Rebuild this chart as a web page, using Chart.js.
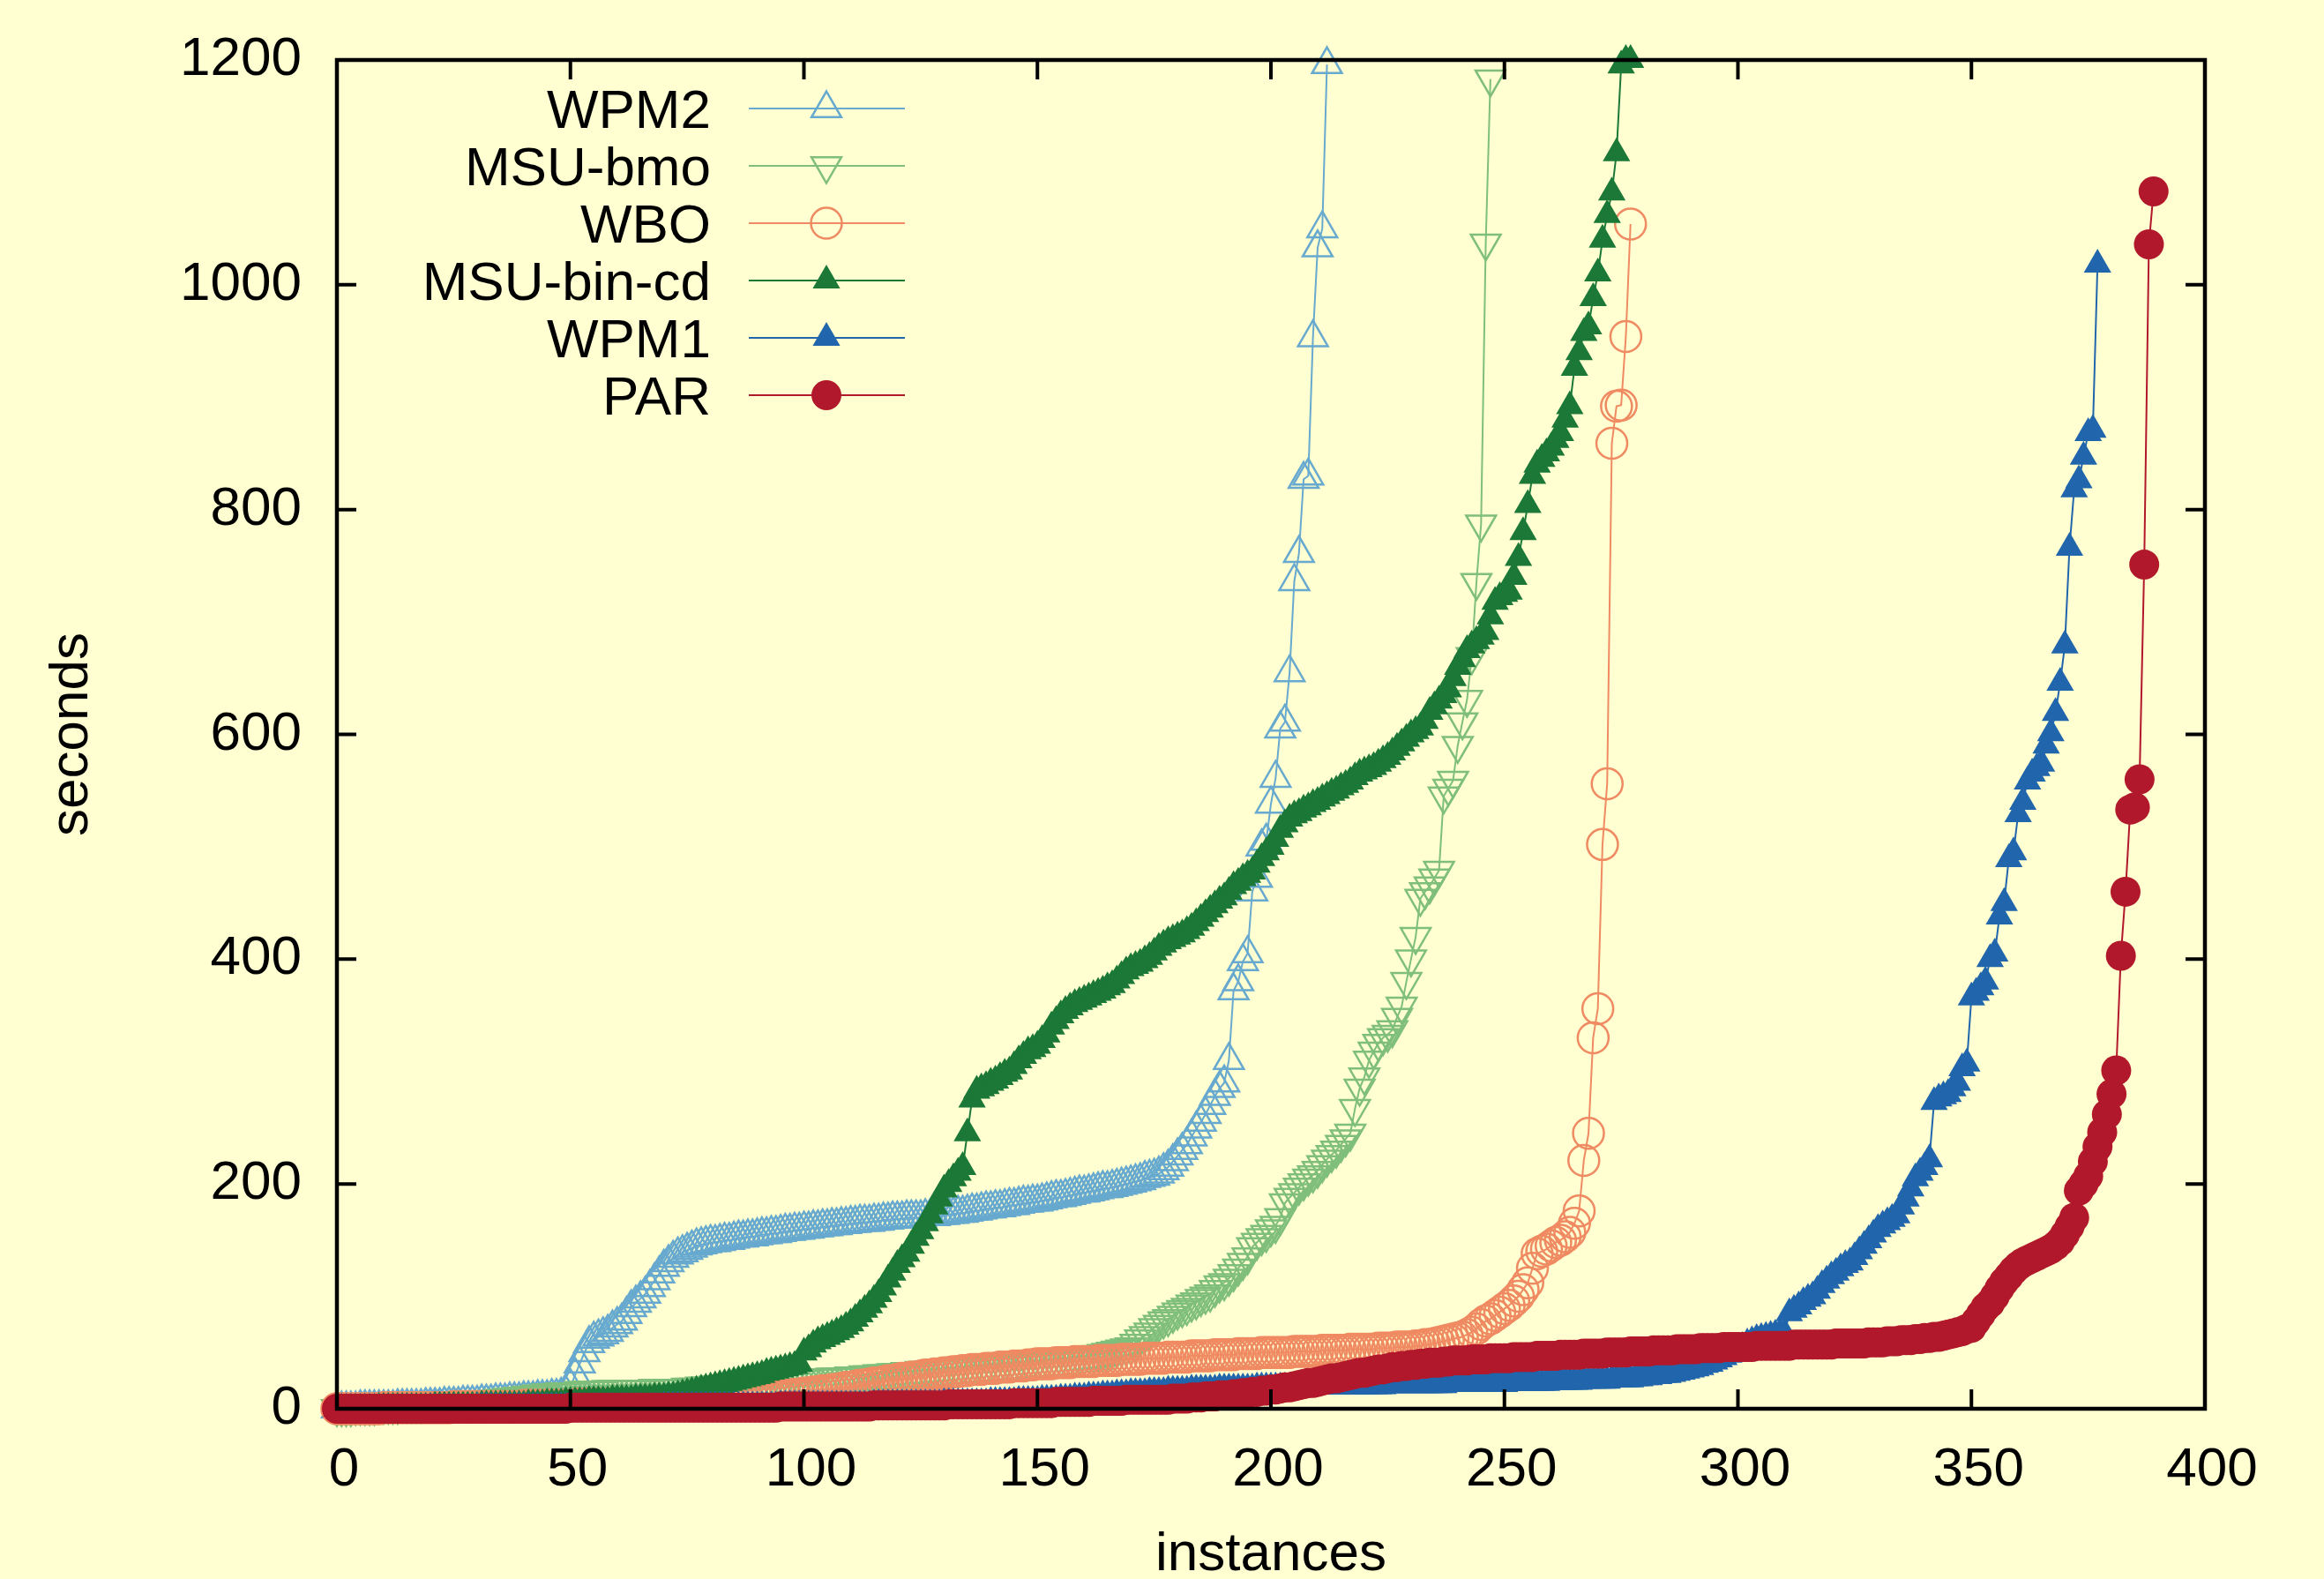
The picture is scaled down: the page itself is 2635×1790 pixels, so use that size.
<!DOCTYPE html>
<html>
<head>
<meta charset="utf-8">
<script src="https://cdn.jsdelivr.net/npm/chart.js@4.4.1/dist/chart.umd.min.js"></script>
<style>
  html, body { margin: 0; padding: 0; background: #ffffd1; }
  #wrap { width: 2635px; height: 1790px; }
</style>
</head>
<body>
<div id="wrap"><canvas id="cactusChart" width="2635" height="1790"></canvas></div>
<script>
// solved instances sorted by run time (cactus plot), one value per instance
const seriesNames = ['WPM2', 'MSU-bmo', 'WBO', 'MSU-bin-cd', 'WPM1', 'PAR'];
const xTicks = [0, 50, 100, 150, 200, 250, 300, 350, 400];
const yTicks = [0, 200, 400, 600, 800, 1000, 1200];

const wpm2 = [
  0,0,0,0,0,1,1,1,1,1,1,1,1,2,2,2,2,2,2,3,
  3,3,3,4,4,4,4,5,5,5,5,6,6,6,7,7,7,8,8,8,
  9,9,9,10,10,10,11,11,12,14,20,30,40,50,58,62,64,66,68,72,
  75,78,84,90,94,98,102,108,114,120,126,130,134,137,139,141,143,145,146,147,
  148,148,149,150,150,151,152,152,153,153,154,155,155,156,156,157,158,158,159,159,
  160,160,161,161,162,162,163,163,164,164,165,165,166,166,166,167,167,168,168,169,
  169,169,170,170,170,170,171,171,171,172,172,173,173,174,174,175,176,176,177,178,
  178,179,179,180,181,181,182,183,183,184,184,185,186,187,188,188,189,190,191,192,
  192,193,194,195,196,196,197,198,199,200,201,202,203,205,206,207,209,212,215,220,
  225,230,235,242,249,255,262,270,278,285,290,310,372,380,398,405,460,472,500,505,
  538,561,605,611,655,736,761,827,830,953,1033,1050,1196
];

const msuBmo = [
  0,0,0,0,1,1,1,1,1,2,2,2,2,2,3,3,3,3,3,4,
  4,4,4,5,5,5,5,6,6,6,7,7,7,8,8,9,9,10,10,11,
  11,12,12,13,13,14,14,14,15,15,15,15,16,16,16,16,16,16,17,17,
  17,17,17,17,17,17,17,17,18,18,18,18,18,18,18,19,19,19,20,20,
  20,21,21,21,22,22,22,23,23,23,24,24,24,24,25,25,25,25,26,26,
  26,26,27,27,27,27,28,28,28,28,29,29,29,30,30,30,31,31,31,32,
  32,32,33,33,33,34,34,34,35,35,35,36,36,36,37,37,37,38,38,38,
  39,39,39,40,40,40,41,41,41,42,42,42,43,43,43,44,44,45,45,46,
  46,47,47,48,49,50,51,52,53,54,55,58,62,65,68,72,75,78,80,83,
  86,88,90,93,95,98,100,102,106,110,112,116,120,125,130,135,144,148,152,155,
  160,163,170,183,188,192,197,201,205,208,212,217,222,226,230,235,240,245,267,285,
  295,310,318,325,330,333,337,348,358,380,400,420,454,460,465,472,479,545,552,559,
  590,611,631,669,735,787,1037,1183
];

const wbo = [
  0,0,0,0,0,0,0,0,0,0,1,1,1,1,1,1,1,1,1,1,
  1,1,1,1,1,2,2,2,2,2,2,2,2,2,2,2,2,2,2,2,
  3,3,3,3,3,3,3,3,3,3,3,4,4,4,4,4,4,4,4,4,
  4,4,4,4,5,5,5,5,5,5,5,5,5,6,6,6,6,6,6,6,
  6,6,6,7,7,7,8,8,8,9,9,9,10,10,11,11,12,12,13,13,
  14,14,15,15,16,16,17,17,18,19,19,20,21,21,22,23,23,24,25,25,
  26,27,27,28,28,29,30,30,31,31,32,32,33,33,34,34,35,35,35,36,
  36,36,37,37,37,38,38,38,39,39,40,40,40,40,41,41,41,41,42,42,
  42,42,42,43,43,43,43,43,44,44,44,44,44,45,45,45,45,45,46,46,
  46,46,46,47,47,47,47,47,48,48,48,48,48,49,49,49,49,49,50,50,
  50,50,50,50,50,51,51,51,51,51,51,52,52,52,52,52,52,53,53,53,
  53,53,53,54,54,54,54,55,55,55,55,56,56,57,57,58,59,60,61,62,
  63,64,66,68,71,75,78,80,83,86,89,92,96,100,106,112,125,138,140,142,
  145,148,150,153,157,165,176,221,245,330,356,502,556,859,892,893,954,1054
];

const msuBinCd = [
  0,0,0,0,0,0,0,0,0,1,1,1,1,1,1,1,1,1,1,1,
  1,2,2,2,2,2,2,2,2,2,2,3,3,3,3,3,3,3,3,3,
  3,4,4,4,4,5,5,5,5,6,6,6,6,6,7,7,7,7,7,8,
  8,8,8,8,9,9,9,9,10,10,10,11,11,12,13,14,15,16,17,18,
  19,20,21,22,23,24,25,26,27,28,29,30,32,33,34,35,36,37,38,40,
  50,53,57,60,62,64,66,68,70,73,76,80,84,88,92,97,102,108,115,121,
  128,133,138,145,152,158,165,172,180,187,195,200,205,210,215,245,275,283,285,287,
  290,292,295,298,300,305,310,314,318,320,323,328,333,340,345,350,354,357,360,362,
  364,366,368,370,372,375,377,381,385,389,392,394,396,399,402,406,410,413,416,418,
  420,422,425,428,432,436,440,444,448,452,455,460,465,468,472,475,478,484,490,495,
  500,507,515,520,525,528,530,533,535,538,540,543,545,548,550,553,555,558,562,565,
  567,569,571,574,577,580,584,588,592,596,600,603,606,612,620,625,630,635,640,650,
  660,667,675,679,683,687,691,705,718,722,725,727,740,757,780,804,830,840,845,850,
  855,862,868,880,892,926,940,957,963,988,1010,1040,1062,1082,1117,1195,1200,1200
];

const wpm1 = [
  0,0,0,0,0,0,0,0,0,0,0,0,0,0,0,0,0,0,0,0,
  0,0,0,0,0,0,0,0,0,0,1,1,1,1,1,1,1,1,1,1,
  1,1,1,1,1,1,1,1,1,1,1,1,1,1,1,1,1,1,1,1,
  1,1,1,1,1,1,1,1,1,1,2,2,2,2,2,2,2,2,2,2,
  2,2,2,2,2,2,2,2,2,2,2,2,2,2,2,3,3,3,3,3,
  3,3,3,3,3,3,3,3,3,3,3,3,3,3,3,4,4,4,4,4,
  4,4,4,4,4,4,4,4,4,4,5,5,5,5,5,5,5,5,5,5,
  6,6,6,6,6,6,7,7,7,7,7,8,8,8,8,9,9,9,10,10,
  10,11,11,11,12,12,12,13,13,13,14,14,14,14,15,15,15,15,16,16,
  16,16,16,17,17,17,17,17,17,18,18,18,18,18,18,18,18,19,19,19,
  19,19,19,19,19,19,19,19,20,20,20,20,20,20,20,20,20,20,20,20,
  20,20,20,20,20,21,21,21,21,21,21,21,21,21,21,21,21,21,22,22,
  22,22,22,22,22,22,22,22,22,22,22,23,23,23,23,23,23,23,23,23,
  24,24,24,24,24,24,24,25,25,25,25,25,25,26,26,26,26,26,27,27,
  28,28,29,29,30,30,31,32,33,34,35,36,37,39,40,42,44,46,48,50,
  52,55,58,60,62,63,64,65,66,67,67,85,88,91,95,98,100,105,110,114,
  118,121,125,128,130,135,140,145,150,155,160,163,166,169,172,180,187,196,205,210,
  215,222,273,276,278,280,285,290,303,307,366,370,375,380,400,405,438,450,489,495,
  529,540,558,565,570,574,590,601,619,646,679,766,818,826,847,868,871,1018
];

const par = [
  0,0,0,0,0,0,0,0,0,0,0,0,0,0,0,0,0,0,0,0,
  0,0,0,0,0,0,0,0,0,0,0,0,0,0,0,0,0,0,0,0,
  0,0,0,0,0,0,0,0,0,0,1,1,1,1,1,1,1,1,1,1,
  1,1,1,1,1,1,1,1,1,1,1,1,1,1,1,1,1,1,1,1,
  1,1,1,1,1,1,1,1,1,1,1,1,1,1,1,2,2,2,2,2,
  2,2,2,2,2,2,2,2,2,2,2,2,2,2,2,3,3,3,3,3,
  3,3,3,3,3,3,3,3,3,3,3,4,4,4,4,4,4,4,4,4,
  4,4,4,4,4,5,5,5,5,5,5,5,5,5,6,6,6,6,6,6,
  6,6,7,7,7,7,7,7,7,8,8,8,8,8,8,8,8,8,8,9,
  9,9,9,10,10,10,11,11,11,12,12,12,13,13,14,14,15,15,16,16,
  17,17,18,19,19,20,21,22,23,23,24,25,26,27,27,28,29,30,31,32,
  32,33,34,35,35,36,37,37,38,38,39,39,40,40,41,41,41,42,42,43,
  43,43,43,44,44,44,44,45,45,45,45,45,46,46,46,46,46,47,47,47,
  47,47,48,48,48,48,48,49,49,49,49,49,50,50,50,50,50,51,51,51,
  51,51,52,52,52,52,52,53,53,53,53,53,54,54,54,54,54,55,55,55,
  55,55,55,55,56,56,56,56,56,56,56,56,57,57,57,57,57,57,57,57,
  57,58,58,58,58,58,58,58,59,59,59,59,60,60,60,61,61,61,62,62,
  63,63,64,64,65,66,67,68,69,71,72,78,84,90,94,100,107,113,118,123,
  127,130,132,134,136,138,140,142,145,149,155,162,170,194,200,207,220,233,246,262,
  280,301,403,460,533,535,560,751,1036,1083
];

const seriesValues = [wpm2, msuBmo, wbo, msuBinCd, wpm1, par];

// look of each series (gnuplot style linespoints)
const seriesStyles = [
  { color: '#67a9cf', shape: 'triangle', rotation: 0,   radius: 19.5, filled: false },
  { color: '#7fbf7b', shape: 'triangle', rotation: 180, radius: 19.5, filled: false },
  { color: '#ef8a62', shape: 'circle',   rotation: 0,   radius: 17.5, filled: false },
  { color: '#1b7837', shape: 'triangle', rotation: 0,   radius: 18,   filled: true },
  { color: '#2166ac', shape: 'triangle', rotation: 0,   radius: 18,   filled: true },
  { color: '#b2182b', shape: 'circle',   rotation: 0,   radius: 17,   filled: true }
];

const BG = '#ffffd1';
const FONT = "'Liberation Sans', Arial, Helvetica, sans-serif";
Chart.defaults.font.family = FONT;
Chart.defaults.color = '#000';

function drawMarker(ctx, st, x, y) {
  ctx.beginPath();
  if (st.shape === 'circle') {
    ctx.arc(x, y, st.radius, 0, Math.PI * 2);
  } else {
    let rad = st.rotation * Math.PI / 180;
    const r = st.radius;
    ctx.moveTo(x + Math.sin(rad) * r, y - Math.cos(rad) * r);
    rad += 2 * Math.PI / 3;
    ctx.lineTo(x + Math.sin(rad) * r, y - Math.cos(rad) * r);
    rad += 2 * Math.PI / 3;
    ctx.lineTo(x + Math.sin(rad) * r, y - Math.cos(rad) * r);
  }
  ctx.closePath();
  if (st.filled) {
    ctx.fillStyle = st.color;
    ctx.fill();
  } else {
    ctx.strokeStyle = st.color;
    ctx.lineWidth = 2.5;
    ctx.stroke();
  }
}

const bgPlugin = {
  id: 'bg',
  beforeDraw(chart) {
    const ctx = chart.ctx;
    ctx.save();
    ctx.fillStyle = BG;
    ctx.fillRect(0, 0, chart.width, chart.height);
    ctx.restore();
  }
};

// border on top of the data, inward mirrored ticks, and the key
const framePlugin = {
  id: 'frame',
  afterDatasetsDraw(chart) {
    const ctx = chart.ctx;
    const a = chart.chartArea;
    const xs = chart.scales.x, ys = chart.scales.y;
    const tl = 22;
    ctx.save();
    ctx.strokeStyle = '#000';
    ctx.lineWidth = 4.5;
    ctx.strokeRect(a.left, a.top, a.right - a.left, a.bottom - a.top);
    ctx.lineWidth = 4;
    ctx.beginPath();
    xTicks.slice(1, -1).forEach(v => {
      const px = xs.getPixelForValue(v);
      ctx.moveTo(px, a.bottom); ctx.lineTo(px, a.bottom - tl);
      ctx.moveTo(px, a.top); ctx.lineTo(px, a.top + tl);
    });
    yTicks.slice(1, -1).forEach(v => {
      const py = ys.getPixelForValue(v);
      ctx.moveTo(a.left, py); ctx.lineTo(a.left + tl, py);
      ctx.moveTo(a.right, py); ctx.lineTo(a.right - tl, py);
    });
    ctx.stroke();

    // key, top left
    ctx.font = '62px ' + FONT;
    ctx.textAlign = 'right';
    ctx.textBaseline = 'alphabetic';
    seriesNames.forEach((name, i) => {
      const y = 123 + i * 65;
      const st = seriesStyles[i];
      ctx.fillStyle = '#000';
      ctx.fillText(name, 806, y + 22);
      ctx.strokeStyle = st.color;
      ctx.lineWidth = 2;
      ctx.beginPath();
      ctx.moveTo(849, y); ctx.lineTo(1026, y);
      ctx.stroke();
      drawMarker(ctx, st, 937, y);
    });
    ctx.restore();
  }
};

const datasets = seriesNames.map((name, i) => {
  const st = seriesStyles[i];
  return {
    label: name,
    data: seriesValues[i].map((v, k) => ({ x: k, y: v })),
    order: seriesNames.length - 1 - i,
    borderColor: st.color,
    borderWidth: 2,
    tension: 0,
    clip: false,
    pointStyle: st.shape,
    rotation: st.rotation,
    pointRadius: st.radius,
    pointBorderColor: st.color,
    pointBackgroundColor: st.filled ? st.color : 'rgba(0,0,0,0)',
    pointBorderWidth: st.filled ? 0 : 2.5
  };
});

new Chart(document.getElementById('cactusChart').getContext('2d'), {
  type: 'line',
  data: { datasets: datasets },
  options: {
    responsive: false,
    animation: false,
    devicePixelRatio: 1,
    layout: { padding: { top: 68, right: 135, bottom: 0, left: 0 } },
    plugins: { legend: { display: false }, tooltip: { enabled: false } },
    scales: {
      x: {
        type: 'linear',
        min: 0, max: 400,
        afterBuildTicks: s => { s.ticks = xTicks.map(v => ({ value: v })); },
        afterFit: s => { s.height = 193; s.paddingLeft = 0; s.paddingRight = 0; },
        grid: { display: false, drawTicks: false },
        border: { display: false },
        ticks: { font: { size: 62 }, color: '#000', padding: 33, labelOffset: 8,
                 maxRotation: 0, autoSkip: false, callback: v => String(v) },
        title: { display: true, text: 'instances', color: '#000',
                 font: { size: 62, lineHeight: 1 }, padding: { top: 0, bottom: -4 } }
      },
      y: {
        type: 'linear',
        min: 0, max: 1200,
        afterBuildTicks: s => { s.ticks = yTicks.map(v => ({ value: v })); },
        afterFit: s => { s.width = 382; s.paddingTop = 0; s.paddingBottom = 0; },
        grid: { display: false, drawTicks: false },
        border: { display: false },
        ticks: { font: { size: 62 }, color: '#000', padding: 40, autoSkip: false,
                 callback: v => String(v) },
        title: { display: true, text: 'seconds', color: '#000',
                 font: { size: 62, lineHeight: 1 }, padding: { top: 51, bottom: 0 } }
      }
    }
  },
  plugins: [bgPlugin, framePlugin]
});
</script>
</body>
</html>
